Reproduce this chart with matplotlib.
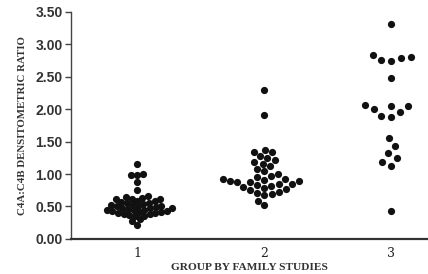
import numpy as np
import matplotlib.pyplot as plt

groups = [1, 2, 3]
group_labels = ["1", "2", "3"]

# C4A:C4B ratios, one list per family-study group
group1 = [1.15, 1.00, 0.99, 0.98, 0.87, 0.75, 0.66, 0.64, 0.63, 0.62, 0.62,
		  0.61, 0.59, 0.58, 0.57, 0.56, 0.55, 0.54, 0.53, 0.52, 0.51, 0.50,
		  0.50, 0.49, 0.48, 0.47, 0.47, 0.46, 0.45, 0.45, 0.44, 0.43, 0.43,
		  0.42, 0.41, 0.40, 0.40, 0.39, 0.38, 0.37, 0.36, 0.35, 0.30, 0.27,
		  0.22]
group2 = [2.30, 1.91, 1.37, 1.34, 1.34, 1.28, 1.25, 1.21, 1.18, 1.16, 1.12,
		  1.07, 1.04, 1.00, 0.97, 0.95, 0.93, 0.92, 0.91, 0.90, 0.89, 0.88,
		  0.87, 0.85, 0.84, 0.83, 0.82, 0.80, 0.79, 0.77, 0.75, 0.73, 0.71,
		  0.69, 0.67, 0.59, 0.52]
group3 = [3.31, 2.84, 2.80, 2.79, 2.76, 2.74, 2.48, 2.06, 2.05, 2.05, 2.00,
		  1.96, 1.89, 1.88, 1.56, 1.43, 1.32, 1.25, 1.19, 1.12, 0.43]

yticks = [0.0, 0.5, 1.0, 1.5, 2.0, 2.5, 3.0, 3.5]

# dot spacing (pixels) of each swarm; the crowded groups overlap more
spacing = [5.8, 7.6, 10.0]


def swarm(vals, px_x, px_y, d):
	# place each point at the free offset nearest the centre (pixel space)
	ys = np.array(vals) * px_y
	offs = np.zeros(len(ys))
	placed = []
	for i in np.argsort(ys):
		y = ys[i]
		near = [(px, py) for px, py in placed if abs(py - y) < d]
		cands = [0.0]
		for px, py in near:
			h = np.sqrt(d * d - (py - y) ** 2)
			cands += [px - h, px + h]
		cands.sort(key=abs)
		c = 0.0
		for c in cands:
			if all((c - px) ** 2 + (y - py) ** 2 >= d * d - 1e-6 for px, py in near):
				break
		placed.append((c, y))
		offs[i] = c / px_x
	return offs


fig = plt.figure(figsize=(4.28, 2.74), dpi=100)
ax = fig.add_axes([0.166, 0.128, 0.834, 0.829])
ax.set_xlim(0.48, 3.29)
ax.set_ylim(0, 3.5)

p0 = ax.transData.transform((0, 0))
p1 = ax.transData.transform((1, 1))
px_x = p1[0] - p0[0]
px_y = p1[1] - p0[1]

for g, vals, d in zip(groups, [group1, group2, group3], spacing):
	offs = swarm(vals, px_x, px_y, d)
	ax.plot(g + offs, vals, "o", color="#111111", markersize=5.2, markeredgewidth=0)

ax.set_yticks(yticks)
ax.set_yticklabels([f"{t:.2f}" for t in yticks], fontsize=10, fontweight="bold",
				   family="Liberation Sans", color="#333333")
ax.set_xticks(groups)
ax.set_xticklabels(group_labels, fontsize=9, family="DejaVu Serif", color="#222222")
ax.tick_params(axis="x", length=0, pad=6)
ax.tick_params(axis="y", length=4, width=1, color="#444444", pad=2)

ax.spines["top"].set_visible(False)
ax.spines["right"].set_visible(False)
ax.spines["left"].set_color("#444444")
ax.spines["left"].set_linewidth(1.0)
ax.spines["bottom"].set_color("#333333")
ax.spines["bottom"].set_linewidth(1.6)

ax.set_ylabel("C4A:C4B DENSITOMETRIC RATIO", fontsize=7.8, fontweight="bold",
			  family="Liberation Serif", color="#333333", labelpad=6)
ax.set_xlabel("GROUP BY FAMILY STUDIES", fontsize=8.2, fontweight="bold",
			  family="Liberation Serif", color="#333333", labelpad=2)

fig.savefig("out.png", dpi=100)
